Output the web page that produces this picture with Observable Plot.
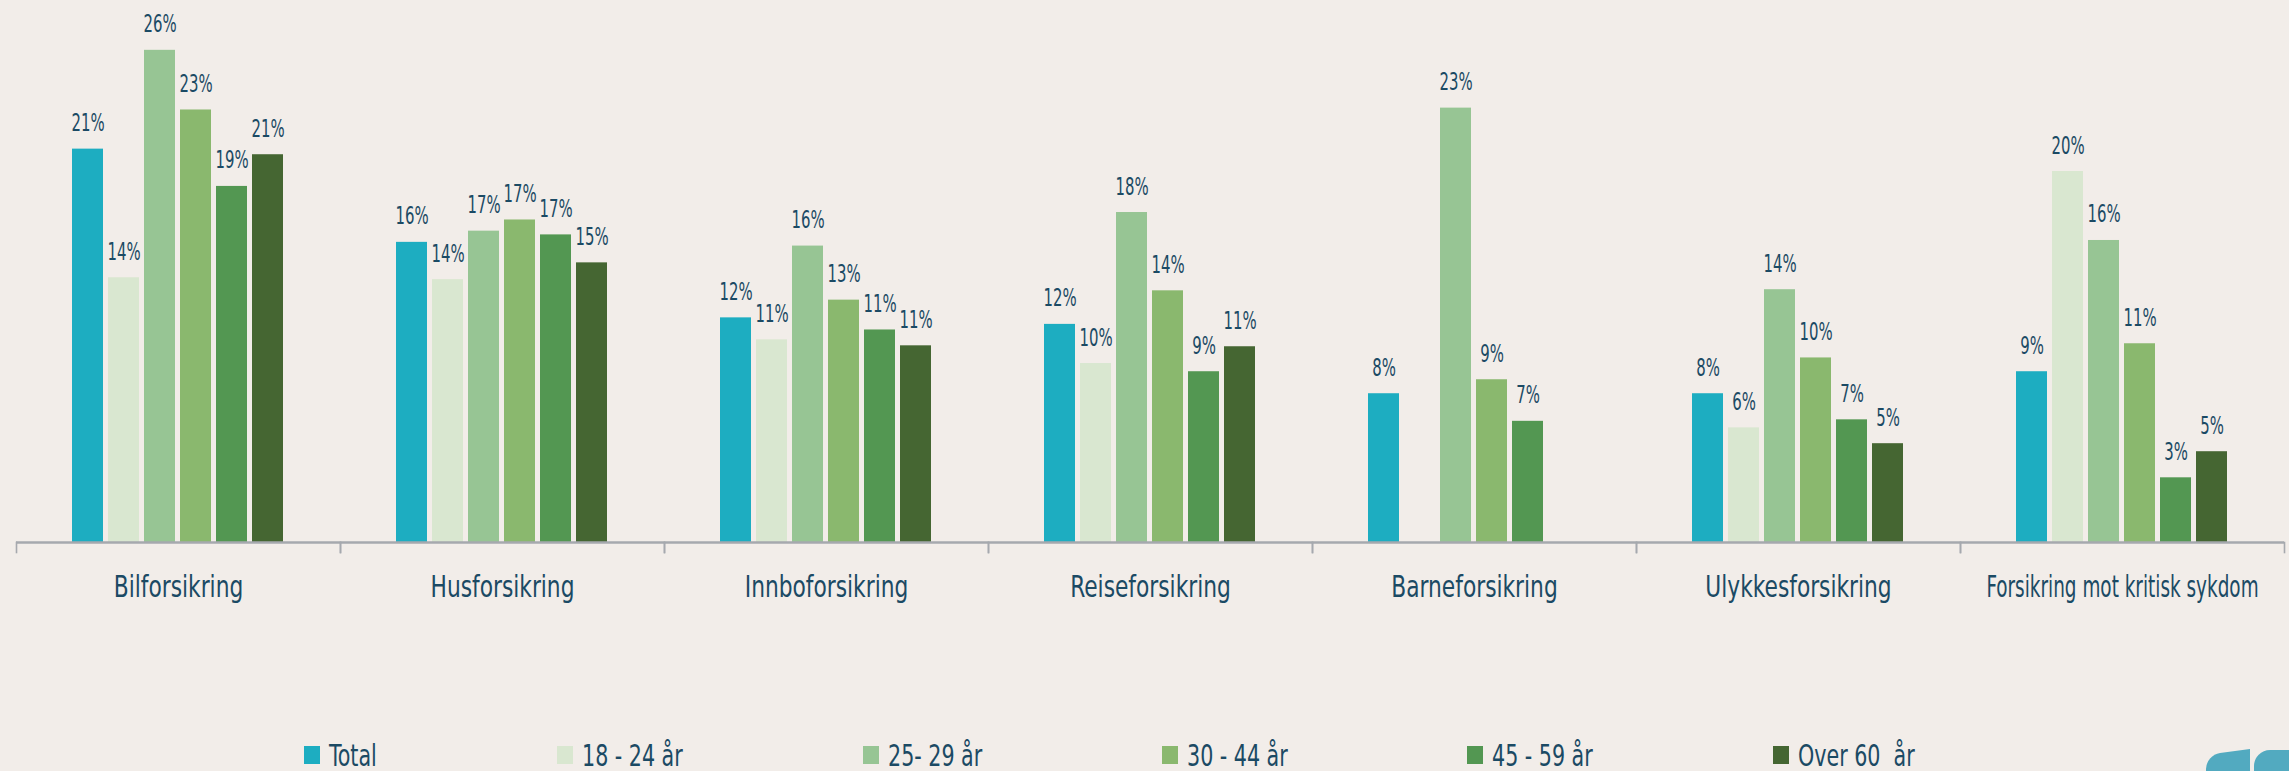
<!DOCTYPE html>
<html><head><meta charset="utf-8">
<script src="https://cdn.jsdelivr.net/npm/d3@7"></script>
<script src="https://cdn.jsdelivr.net/npm/@observablehq/plot@0.6"></script>
<style>
html,body{margin:0;padding:0;background:#f2ede9;}
body{width:2289px;height:771px;position:relative;overflow:hidden;font-family:"DejaVu Sans Condensed","DejaVu Sans",sans-serif;color:#1b4a64;}
#chart{position:absolute;left:0;top:0;}
#legend{position:absolute;left:304px;top:738px;display:flex;gap:180px;font-size:31px;line-height:34px;height:34px;}
.item{display:flex;align-items:center;gap:9px;white-space:pre;}
.sw{width:16px;height:18px;display:inline-block;flex:none;}
.lt{display:inline-block;transform-origin:0 50%;}
.logo{position:absolute;background:#52aac0;}
.logo.a{left:2206px;top:752px;width:44px;height:30px;border-radius:14px 0 0 0;transform:skewY(-8deg);}
.logo.b{left:2254px;top:750px;width:40px;height:30px;border-radius:16px 0 0 0;}
</style></head><body>
<div id="chart"></div><div id="legend"></div>
<div class="logo a"></div><div class="logo b"></div>
<script>
const categories = ["Bilforsikring","Husforsikring","Innboforsikring","Reiseforsikring","Barneforsikring","Ulykkesforsikring","Forsikring mot kritisk sykdom"];
const groups = ["Total","18 - 24 år","25- 29 år","30 - 44 år","45 - 59 år","Over 60  år"];
const total   = [21.1, 16.1, 12.05, 11.7, 7.98, 7.98, 9.16];
const age1824 = [14.2, 14.1, 10.87, 9.6, null, 6.15, 19.9];
const age2529 = [26.4, 16.7, 15.9, 17.7, 23.3, 13.56, 16.2];
const age3044 = [23.2, 17.3, 13.0, 13.5, 8.73, 9.9, 10.66];
const age4559 = [19.1, 16.5, 11.4, 9.16, 6.5, 6.58, 3.47];
const age60   = [20.8, 15.0, 10.55, 10.5, null, 5.3, 4.87];
const colors = ["#1dadc1","#d9e7d0","#97c594","#8ab86e","#539752","#456632"];

const series = [total, age1824, age2529, age3044, age4559, age60];
const rows = [];
categories.forEach((c, i) => groups.forEach((g, j) => {
  const v = series[j][i];
  if (v != null) rows.push({category: c, group: g, value: v});
}));

const W = 2289, H = 640, MT = 20, MB = 98;
const textColor = "#1b4a64", axisColor = "#a6a9ae";
const font = "'DejaVu Sans Condensed','DejaVu Sans',sans-serif";
const squeezeAxis = 0.78, squeezeLabel = 0.69, squeezeLegend = 0.74;

const plot = Plot.plot({
  width: W, height: H,
  marginTop: MT, marginBottom: MB, marginLeft: 14, marginRight: 3,
  style: {background: "transparent", fontFamily: font, fontSize: "31px", color: textColor, overflow: "visible"},
  fx: {domain: categories, padding: 0, label: null, axis: "bottom", tickSize: 0, tickPadding: 32},
  x: {domain: groups, axis: null, paddingInner: 0.133, paddingOuter: 1.55},
  y: {domain: [0, 28], axis: null},
  color: {domain: groups, range: colors},
  marks: [
    Plot.barY(rows, {fx: "category", x: "group", y: "value", fill: "group"}),
    Plot.text(rows, {fx: "category", x: "group", y: "value", text: d => Math.round(d.value) + "%",
      lineAnchor: "bottom", dy: -18, fontSize: 24, fill: textColor}),
    Plot.ruleY([0], {stroke: axisColor, strokeWidth: 2.5}),
    Plot.frame({anchor: "left", insetTop: H - MT - MB, insetBottom: -10, stroke: axisColor, strokeWidth: 1.6}),
    Plot.frame({anchor: "right", insetTop: H - MT - MB, insetBottom: -10, stroke: axisColor, strokeWidth: 1.6})
  ]
});
document.getElementById("chart").appendChild(plot);

// condense the glyphs horizontally to approach the reference's narrow typeface
const step = plot.scale("fx").step;
plot.querySelectorAll("text").forEach(t => {
  const g = t.closest("g[aria-label]");
  const isAxis = g && /axis/.test(g.getAttribute("aria-label"));
  const len = t.getComputedTextLength();
  if (len > 0) {
    let target = len * (isAxis ? squeezeAxis : squeezeLabel);
    if (isAxis) target = Math.min(target, step * 0.84);
    t.setAttribute("textLength", target);
    t.setAttribute("lengthAdjust", "spacingAndGlyphs");
  }
});

const legend = document.getElementById("legend");
groups.forEach((g, i) => {
  const item = document.createElement("div");
  item.className = "item";
  const sw = document.createElement("span");
  sw.className = "sw";
  sw.style.background = colors[i];
  const t = document.createElement("span");
  t.className = "lt";
  t.textContent = g;
  item.appendChild(sw);
  item.appendChild(t);
  legend.appendChild(item);
  const w = t.offsetWidth;
  t.style.transform = `scaleX(${squeezeLegend})`;
  t.style.width = (w * squeezeLegend) + "px";
});
</script>
</body></html>
